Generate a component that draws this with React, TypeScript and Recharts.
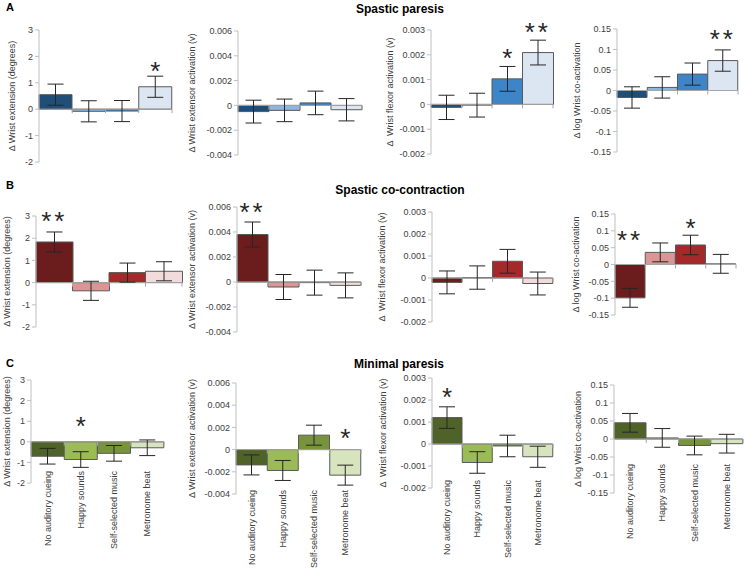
import React from 'react';
import { BarChart, Bar, XAxis, YAxis, Cell, ErrorBar, ReferenceLine, ReferenceDot } from 'recharts';

// ---------- categories & ticks ----------
const categories = ['No auditory cueing', 'Happy sounds', 'Self-selected music', 'Metronome beat'];
const extTicks = [-2, -1, 0, 1, 2, 3];
const extorTicks = [-0.004, -0.002, 0, 0.002, 0.004, 0.006];
const flexTicks = [-0.002, -0.001, 0, 0.001, 0.002, 0.003];
const coTicks = [-0.15, -0.1, -0.05, 0, 0.05, 0.1, 0.15];

// ---------- A: Spastic paresis ----------
const aExtMean = [0.55, -0.08, -0.07, 0.85];
const aExtErr = [0.4, 0.4, 0.4, 0.4];
const aExtSig = ['', '', '', '*'];
const aExtStar = [null, null, null, 1.68];

const aExtorMean = [-0.0005, -0.0004, 0.0002, -0.00035];
const aExtorErr = [0.00092, 0.00091, 0.00095, 0.0009];
const aExtorSig = ['', '', '', ''];
const aExtorStar = [null, null, null, null];

const aFlexMean = [-0.00012, -0.00003, 0.00103, 0.00209];
const aFlexErr = [0.00049, 0.00048, 0.0005, 0.0005];
const aFlexSig = ['', '', '*', '**'];
const aFlexStar = [null, null, 0.00211, 0.00316];

const aCoMean = [-0.017, 0.0075, 0.04, 0.073];
const aCoErr = [0.026, 0.026, 0.027, 0.026];
const aCoSig = ['', '', '', '**'];
const aCoStar = [null, null, null, 0.14];

// ---------- B: Spastic co-contraction ----------
const bExtMean = [1.83, -0.37, 0.45, 0.51];
const bExtErr = [0.45, 0.43, 0.43, 0.43];
const bExtSig = ['**', '', '', ''];
const bExtStar = [3.05, null, null, null];

const bExtorMean = [0.0038, -0.0004, -0.00005, -0.00027];
const bExtorErr = [0.001, 0.001, 0.001, 0.001];
const bExtorSig = ['**', '', '', ''];
const bExtorStar = [0.0061, null, null, null];

const bFlexMean = [-0.0002, 0.00002, 0.00076, -0.00025];
const bFlexErr = [0.00052, 0.00053, 0.00054, 0.00052];
const bFlexSig = ['', '', '', ''];
const bFlexStar = [null, null, null, null];

const bCoMean = [-0.099, 0.036, 0.058, 0.002];
const bCoErr = [0.028, 0.028, 0.029, 0.028];
const bCoSig = ['**', '', '*', ''];
const bCoStar = [0.09, null, 0.126, null];

// ---------- C: Minimal paresis ----------
const cExtMean = [-0.7, -0.86, -0.56, -0.29];
const cExtErr = [0.38, 0.38, 0.38, 0.38];
const cExtSig = ['', '*', '', ''];
const cExtStar = [null, 1.06, null, null];

const cExtorMean = [-0.00138, -0.00188, 0.0013, -0.0023];
const cExtorErr = [0.0009, 0.0009, 0.0009, 0.0009];
const cExtorSig = ['', '', '', '*'];
const cExtorStar = [null, null, null, 0.0016];

const cFlexMean = [0.0012, -0.00084, -0.00009, -0.00058];
const cFlexErr = [0.00049, 0.00049, 0.00049, 0.00048];
const cFlexSig = ['*', '', '', ''];
const cFlexStar = [0.0024, null, null, null];

const cCoMean = [0.045, 0.003, -0.018, -0.013];
const cCoErr = [0.026, 0.026, 0.026, 0.026];
const cCoSig = ['', '', '', ''];
const cCoStar = [null, null, null, null];

// ---------- styles ----------
const blues = ['#1f4e79', '#8eb4e3', '#3d85c6', '#dce6f2'];
const reds = ['#6b1d1d', '#d99694', '#a3292b', '#f2dcdb'];
const greens = ['#4f6228', '#9bbb59', '#77933c', '#d7e4bd'];
const TEXT = '#404040';
const FONT = '"Liberation Sans", Arial, sans-serif';
const FS = 9;

const L_EXT = 'Δ Wrist extension (degrees)';
const L_EXTOR = 'Δ Wrist extensor activation (v)';
const L_FLEX = 'Δ  Wrist flexor activation (v)';
const L_CO = 'Δ log Wrist co-activation';

type PanelDef = {
  means: number[]; errs: number[]; sig: string[]; starY: (number | null)[];
  ticks: number[]; ylabel: string; colors: string[];
  box: [number, number, number, number]; labelDx: number;
  xLabels?: boolean; xLabelDy?: number;
};

const panels: PanelDef[] = [
  { means: aExtMean, errs: aExtErr, sig: aExtSig, starY: aExtStar, ticks: extTicks, ylabel: L_EXT, colors: blues, box: [39, 172, 30, 162], labelDx: 27 },
  { means: aExtorMean, errs: aExtorErr, sig: aExtorSig, starY: aExtorStar, ticks: extorTicks, ylabel: L_EXTOR, colors: blues, box: [238, 362, 31, 155], labelDx: 46 },
  { means: aFlexMean, errs: aFlexErr, sig: aFlexSig, starY: aFlexStar, ticks: flexTicks, ylabel: L_FLEX, colors: blues, box: [431, 553, 30, 154], labelDx: 41 },
  { means: aCoMean, errs: aCoErr, sig: aCoSig, starY: aCoStar, ticks: coTicks, ylabel: L_CO, colors: blues, box: [617, 738, 29, 152], labelDx: 40 },

  { means: bExtMean, errs: bExtErr, sig: bExtSig, starY: bExtStar, ticks: extTicks, ylabel: L_EXT, colors: reds, box: [36, 182, 216, 327], labelDx: 29 },
  { means: bExtorMean, errs: bExtorErr, sig: bExtorSig, starY: bExtorStar, ticks: extorTicks, ylabel: L_EXTOR, colors: reds, box: [237, 361, 207, 332], labelDx: 45 },
  { means: bFlexMean, errs: bFlexErr, sig: bFlexSig, starY: bFlexStar, ticks: flexTicks, ylabel: L_FLEX, colors: reds, box: [432, 553, 212, 322], labelDx: 50 },
  { means: bCoMean, errs: bCoErr, sig: bCoSig, starY: bCoStar, ticks: coTicks, ylabel: L_CO, colors: reds, box: [615, 736, 214, 315], labelDx: 39 },

  { means: cExtMean, errs: cExtErr, sig: cExtSig, starY: cExtStar, ticks: extTicks, ylabel: L_EXT, colors: greens, box: [31, 164, 380, 483], labelDx: 24, xLabels: true, xLabelDy: -12 },
  { means: cExtorMean, errs: cExtorErr, sig: cExtorSig, starY: cExtorStar, ticks: extorTicks, ylabel: L_EXTOR, colors: greens, box: [236, 361, 383, 494], labelDx: 44, xLabels: true, xLabelDy: -4 },
  { means: cFlexMean, errs: cFlexErr, sig: cFlexSig, starY: cFlexStar, ticks: flexTicks, ylabel: L_FLEX, colors: greens, box: [432, 553, 378, 488], labelDx: 49, xLabels: true, xLabelDy: -8 },
  { means: cCoMean, errs: cCoErr, sig: cCoSig, starY: cCoStar, ticks: coTicks, ylabel: L_CO, colors: greens, box: [614, 743, 385, 493], labelDx: 36, xLabels: true, xLabelDy: -29 },
];

const YW = 60;
const MT = 6;
const MR = 2;
const MB = 6;
const XH = 90;

// zero line with small category-boundary tick marks (Excel style)
const zeroLine = (props: any) => {
  const { x1, x2, y1 } = props;
  const n = categories.length;
  const marks = [];
  for (let k = 1; k <= n; k++) {
    const x = x1 + (k * (x2 - x1)) / n;
    marks.push(<line key={k} x1={x} x2={x} y1={y1} y2={y1 + 4} stroke="#a6a6a6" strokeWidth={1} />);
  }
  return (
    <g>
      <line x1={x1} x2={x2} y1={y1} y2={y1} stroke="#a6a6a6" strokeWidth={1} />
      {marks}
    </g>
  );
};

function Panel({ p }: { p: PanelDef }) {
  const [x0, x1, yT, yB] = p.box;
  const width = YW + (x1 - x0) + MR;
  const height = MT + (yB - yT) + (p.xLabels ? XH : MB);
  const data = categories.map((c, i) => ({ cat: c, v: p.means[i], err: p.errs[i] }));
  const dmin = p.ticks[0];
  const dmax = p.ticks[p.ticks.length - 1];
  const yLabel = (props: any) => {
    const vb = props.viewBox || {};
    const cx = vb.x + vb.width - p.labelDx;
    const cy = vb.y + vb.height / 2;
    return (
      <text x={cx} y={cy} transform={`rotate(-90, ${cx}, ${cy})`} textAnchor="middle"
        dominantBaseline="central" fontSize={FS} fill={TEXT} style={{ whiteSpace: 'pre' }}>
        {p.ylabel}
      </text>
    );
  };
  const xTick = (props: any) => {
    const tx = props.x;
    const ty = props.y + (p.xLabelDy || 0);
    return (
      <text x={tx} y={ty} transform={`rotate(-90, ${tx}, ${ty})`} textAnchor="end"
        dominantBaseline="central" fontSize={FS} fill={TEXT}>
        {props.payload.value}
      </text>
    );
  };
  return (
    <div style={{ position: 'absolute', left: x0 - YW, top: yT - MT, width, height }}>
      <BarChart width={width} height={height} data={data} barCategoryGap={0}
        margin={{ top: MT, right: MR, left: 0, bottom: p.xLabels ? 0 : MB }}>
        <XAxis dataKey="cat" hide={!p.xLabels} height={XH} axisLine={false} tickLine={false}
          tickSize={0} tickMargin={0} interval={0} tick={xTick} />
        <YAxis type="number" domain={[dmin, dmax]} ticks={p.ticks} allowDataOverflow width={YW}
          axisLine={{ stroke: '#bfbfbf' }} tickLine={{ stroke: '#bfbfbf' }} tickSize={4}
          tick={{ fontSize: FS, fill: TEXT }} tickFormatter={(v: number) => String(v)}
          label={{ content: yLabel }} />
        <ReferenceLine y={0} stroke="#a6a6a6" shape={zeroLine} />
        <Bar dataKey="v" isAnimationActive={false} stroke="#595959" strokeWidth={1}>
          {data.map((d, i) => <Cell key={i} fill={p.colors[i]} />)}
          <ErrorBar dataKey="err" width={8} stroke="#262626" strokeWidth={1} direction="y" />
        </Bar>
        {p.sig.map((s, i) => (s && p.starY[i] !== null ? (
          <ReferenceDot key={'s' + i} x={categories[i]} y={p.starY[i] as number} ifOverflow="visible"
            shape={(sp: any) => (
              <text x={sp.cx} y={sp.cy + 15} textAnchor="middle" fontSize={26} fill="#262626"
                letterSpacing={s.length > 1 ? 3 : 0}>
                {s}
              </text>
            )} />
        ) : null))}
      </BarChart>
    </div>
  );
}

export default function App() {
  return (
    <div style={{ position: 'absolute', left: 0, top: 0, width: 745, height: 569, background: '#fff', fontFamily: FONT, overflow: 'hidden' }}>
      <style>{'.recharts-surface, .recharts-wrapper { overflow: visible !important; }'}</style>
      {panels.map((p, i) => <Panel key={i} p={p} />)}
      <svg width={745} height={569} style={{ position: 'absolute', left: 0, top: 0, pointerEvents: 'none' }}>
        <g fontFamily={FONT} fontWeight="bold" fill="#000">
          <text x={6} y={11} fontSize={11}>A</text>
          <text x={6} y={189} fontSize={11}>B</text>
          <text x={6} y={367} fontSize={11}>C</text>
          <text x={400} y={13} fontSize={12} textAnchor="middle">Spastic paresis</text>
          <text x={400} y={194} fontSize={12} textAnchor="middle">Spastic co-contraction</text>
          <text x={399} y={368} fontSize={12} textAnchor="middle">Minimal paresis</text>
        </g>
      </svg>
    </div>
  );
}
